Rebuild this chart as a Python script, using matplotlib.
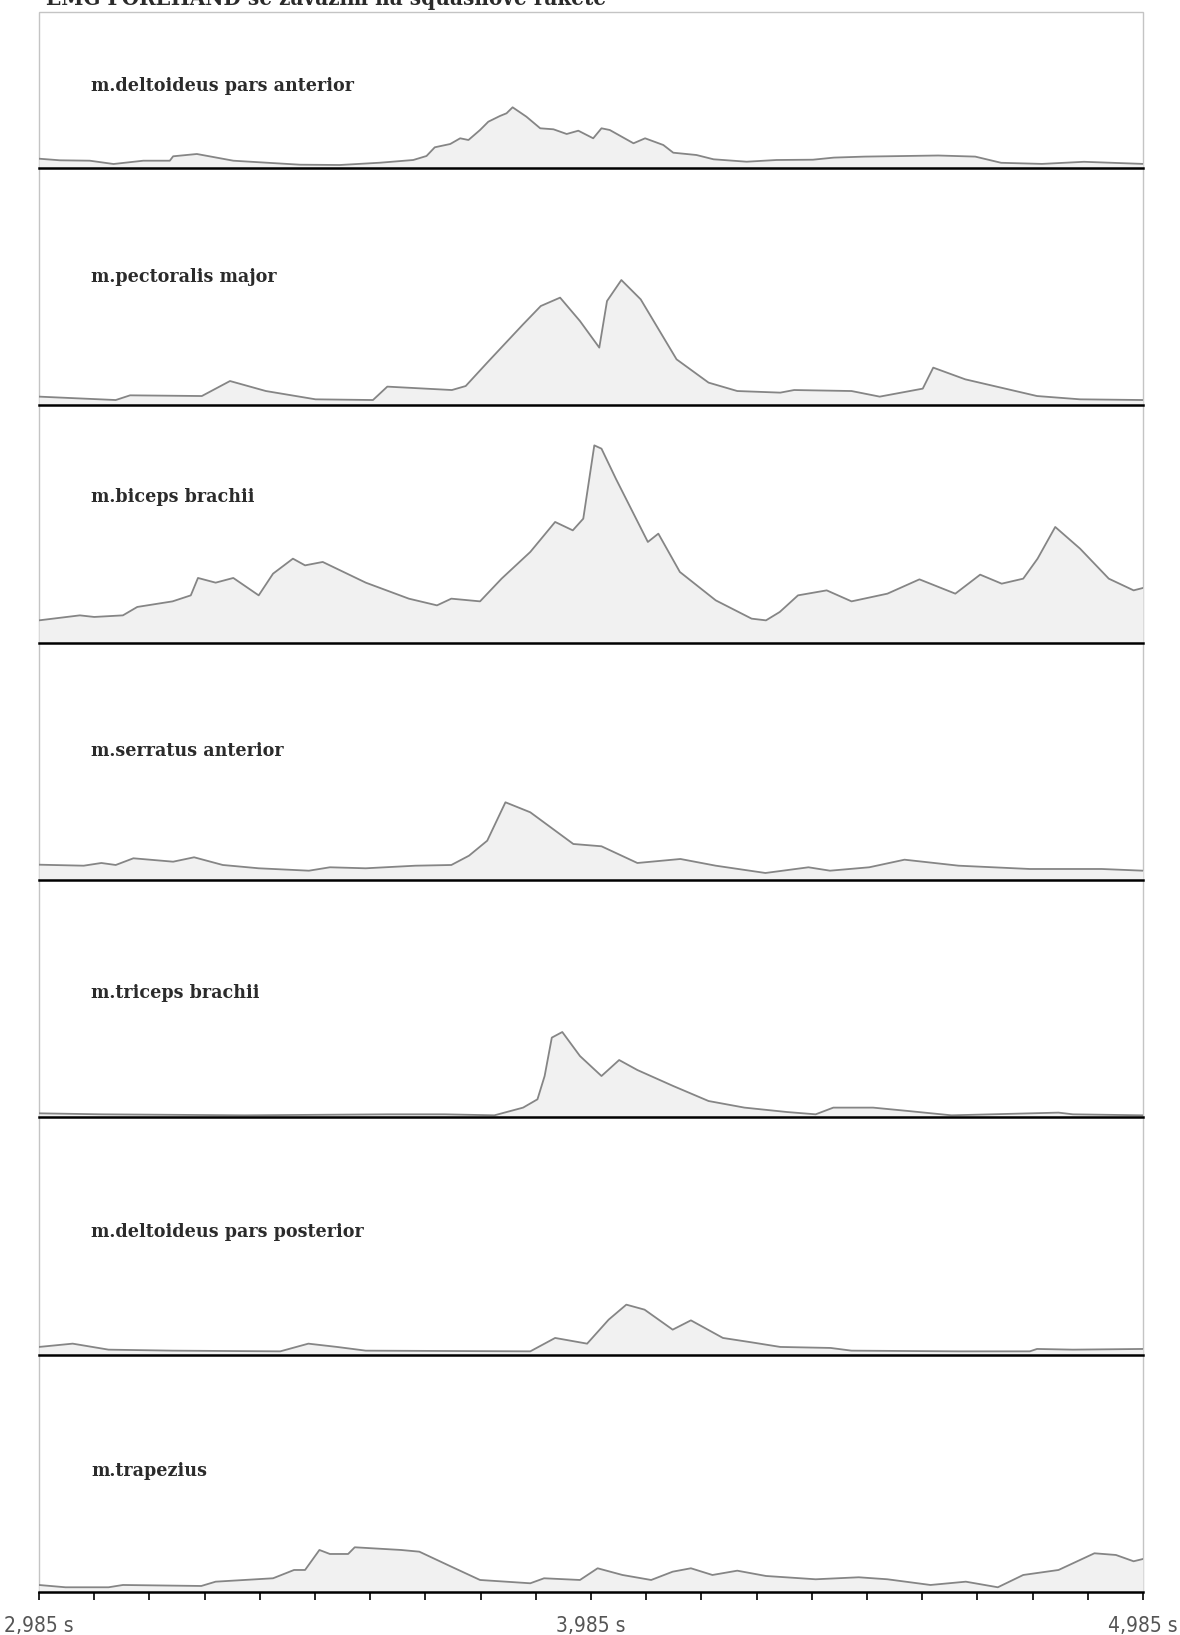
import numpy as np
import matplotlib
matplotlib.use("Agg")
import matplotlib.pyplot as plt
from matplotlib.patches import Rectangle

# ---- EMG envelopes (time in s, amplitude in arbitrary units) ----
delt_ant_t = [2.985, 3.023, 3.077, 3.120, 3.174, 3.222, 3.228, 3.271, 3.337, 3.385,
              3.458, 3.530, 3.603, 3.663, 3.687, 3.702, 3.730, 3.748, 3.763, 3.784,
              3.799, 3.820, 3.832, 3.843, 3.868, 3.893, 3.917, 3.941, 3.962, 3.989,
              4.004, 4.019, 4.062, 4.083, 4.116, 4.134, 4.176, 4.207, 4.267, 4.321,
              4.387, 4.425, 4.481, 4.614, 4.681, 4.728, 4.802, 4.878, 4.985]
delt_ant_amp = [9.3, 7.7, 7.3, 4.0, 7.3, 7.3, 11.7, 14.0, 7.3, 5.7,
                3.3, 3.0, 5.3, 8.0, 12.0, 20.7, 24.0, 29.7, 28.0, 38.0,
                46.3, 52.0, 54.7, 60.7, 51.3, 39.7, 38.7, 34.0, 37.3, 29.7,
                39.7, 38.0, 24.7, 29.7, 23.0, 15.3, 13.0, 8.7, 6.3, 8.0,
                8.3, 10.4, 11.4, 12.5, 11.4, 5.2, 4.1, 6.2, 4.1]

pect_t = [2.985, 3.124, 3.150, 3.280, 3.331, 3.396, 3.486, 3.590, 3.616, 3.733,
          3.758, 3.797, 3.862, 3.894, 3.929, 3.965, 4.000, 4.014, 4.040, 4.075,
          4.140, 4.198, 4.250, 4.328, 4.353, 4.457, 4.508, 4.586, 4.605, 4.663,
          4.793, 4.871, 4.985]
pect_amp = [8.7, 5.3, 10.0, 9.3, 24.3, 14.3, 6.0, 5.3, 18.7, 15.3,
            19.3, 42.7, 81.0, 99.3, 107.7, 84.3, 57.7, 104.3, 125.3, 106.0,
            46.0, 22.7, 14.3, 12.7, 15.3, 14.3, 8.7, 16.7, 37.7, 26.0,
            9.3, 6.0, 5.3]

biceps_t = [2.985, 3.059, 3.085, 3.137, 3.163, 3.227, 3.260, 3.273, 3.305, 3.337,
            3.383, 3.409, 3.445, 3.467, 3.499, 3.577, 3.655, 3.706, 3.732, 3.784,
            3.823, 3.875, 3.920, 3.952, 3.971, 3.991, 4.004, 4.030, 4.088, 4.107,
            4.146, 4.211, 4.276, 4.302, 4.327, 4.360, 4.412, 4.457, 4.522, 4.580,
            4.645, 4.690, 4.729, 4.768, 4.794, 4.826, 4.871, 4.923, 4.968, 4.985]
biceps_amp = [22.3, 27.3, 25.7, 27.3, 35.7, 41.3, 47.3, 64.7, 60.0, 64.7,
              47.3, 69.0, 84.0, 77.3, 80.7, 60.0, 44.0, 37.3, 44.0, 41.3,
              64.0, 90.7, 120.7, 112.3, 124.0, 197.3, 194.0, 164.0, 100.7, 109.0,
              70.7, 42.3, 24.0, 22.3, 30.7, 47.3, 52.3, 41.3, 49.0, 63.3,
              49.0, 68.0, 59.0, 64.0, 84.0, 115.7, 94.0, 64.0, 52.3, 54.7]

serratus_t = [2.985, 3.066, 3.098, 3.124, 3.156, 3.228, 3.266, 3.318, 3.383, 3.474,
              3.512, 3.577, 3.667, 3.732, 3.764, 3.797, 3.830, 3.875, 3.953, 4.004,
              4.069, 4.147, 4.211, 4.301, 4.379, 4.418, 4.489, 4.553, 4.651, 4.780,
              4.910, 4.985]
serratus_amp = [15.3, 14.3, 17.0, 15.0, 21.7, 18.3, 22.7, 15.0, 11.7, 9.3,
                12.7, 11.7, 14.3, 15.0, 24.3, 39.3, 77.7, 67.7, 36.0, 33.7,
                17.0, 21.0, 14.3, 7.0, 12.7, 9.3, 12.7, 20.3, 14.3, 11.0,
                11.0, 9.3]

triceps_t = [2.985, 3.098, 3.357, 3.617, 3.720, 3.810, 3.862, 3.888, 3.901, 3.914,
             3.933, 3.965, 4.004, 4.036, 4.069, 4.134, 4.198, 4.263, 4.340, 4.392,
             4.424, 4.496, 4.560, 4.638, 4.832, 4.858, 4.985]
triceps_amp = [4.0, 3.0, 2.0, 3.0, 3.0, 2.0, 9.7, 18.0, 41.3, 79.7,
               85.3, 61.3, 41.3, 57.3, 47.3, 31.3, 16.3, 9.7, 5.3, 3.0,
               9.7, 9.7, 6.3, 2.0, 4.7, 3.0, 2.0]

delt_post_t = [2.985, 3.046, 3.111, 3.227, 3.422, 3.473, 3.525, 3.577, 3.875, 3.920,
               3.978, 4.017, 4.049, 4.082, 4.133, 4.166, 4.224, 4.276, 4.328, 4.419,
               4.457, 4.652, 4.780, 4.793, 4.858, 4.985]
delt_post_amp = [7.7, 11.0, 5.0, 4.0, 3.3, 11.0, 7.7, 4.0, 3.3, 16.7,
                 11.0, 35.0, 50.0, 45.0, 25.0, 34.3, 16.7, 12.3, 7.7, 6.7,
                 4.0, 3.3, 3.3, 5.7, 5.0, 5.7]

trap_t = [2.985, 3.033, 3.111, 3.137, 3.279, 3.305, 3.409, 3.447, 3.467, 3.493,
          3.512, 3.545, 3.557, 3.641, 3.674, 3.732, 3.784, 3.875, 3.900, 3.965,
          3.997, 4.042, 4.094, 4.133, 4.166, 4.205, 4.250, 4.302, 4.392, 4.470,
          4.522, 4.600, 4.664, 4.722, 4.768, 4.832, 4.897, 4.936, 4.968, 4.985]
trap_amp = [7.0, 4.7, 4.7, 7.0, 6.0, 10.3, 13.7, 22.0, 22.0, 42.0,
            38.0, 38.0, 44.7, 42.0, 40.3, 25.3, 12.0, 8.7, 13.7, 12.0,
            23.7, 17.0, 12.0, 20.3, 23.7, 17.0, 21.3, 16.0, 12.7, 14.7,
            12.7, 7.0, 10.3, 4.7, 17.0, 22.0, 38.7, 37.0, 30.7, 33.0]

muscles = ["m.deltoideus pars anterior", "m.pectoralis major", "m.biceps brachii",
           "m.serratus anterior", "m.triceps brachii", "m.deltoideus pars posterior",
           "m.trapezius"]
series = [(delt_ant_t, delt_ant_amp), (pect_t, pect_amp), (biceps_t, biceps_amp),
          (serratus_t, serratus_amp), (triceps_t, triceps_amp),
          (delt_post_t, delt_post_amp), (trap_t, trap_amp)]

t_start, t_end = 2.985, 4.985
tick_step = 0.1
title = "EMG FOREHAND se závažím na squashové raketě"

# ---- layout (figure pixels) ----
W, H = 1180, 1635
LEFT, RIGHT, TOP = 39, 1143, 12
FIRST_BASE, STEP = 168, 237.33
label_drop = [74, 109, 92, 108, 113, 115, 116]   # label centre below panel top
label_x = 91

fig = plt.figure(figsize=(W / 100, H / 100), dpi=100)
fig.patch.set_facecolor("white")

# outer frame, drawn beneath the panels
fig.patches.append(Rectangle((LEFT / W, 1 - (FIRST_BASE + 6 * STEP) / H),
                             (RIGHT - LEFT) / W, (FIRST_BASE + 6 * STEP - TOP) / H,
                             transform=fig.transFigure, fill=False,
                             edgecolor="#c4c4c4", lw=1.0, zorder=-1))

label_font = dict(family=["DejaVu Serif"], fontstretch="condensed",
                  fontweight="bold", fontsize=14, color="#2b2b2b")

axes = []
for i, (name, (t, amp)) in enumerate(zip(muscles, series)):
    base = FIRST_BASE + i * STEP
    top = TOP if i == 0 else FIRST_BASE + (i - 1) * STEP
    ax = fig.add_axes([LEFT / W, 1 - base / H, (RIGHT - LEFT) / W, (base - top) / H])
    ax.patch.set_alpha(0)
    ax.set_xlim(t_start, t_end)
    ax.set_ylim(0, base - top)
    ax.fill_between(t, amp, 0, color="#f1f1f1", lw=0, zorder=1)
    ax.plot(t, amp, color="#858585", lw=1.3, zorder=2)
    for s in ("top", "left", "right"):
        ax.spines[s].set_visible(False)
    ax.spines["bottom"].set_color("black")
    ax.spines["bottom"].set_linewidth(1.8)
    ax.spines["bottom"].set_zorder(5)
    ax.set_yticks([])
    ax.set_xticks([])
    fig.text((label_x) / W, 1 - (top + label_drop[i]) / H, name,
             ha="left", va="center", **label_font)
    axes.append(ax)

# time axis on the bottom panel
ax = axes[-1]
n_ticks = int(round((t_end - t_start) / tick_step)) + 1
ticks = [t_start + k * tick_step for k in range(n_ticks)]
ax.set_xticks(ticks)
ax.set_xticklabels([f"{v:.3f}".replace(".", ",") + " s" if k % 10 == 0 else ""
                    for k, v in enumerate(ticks)],
                   family=["Liberation Sans Narrow", "DejaVu Sans"],
                   fontstretch="condensed", fontsize=15, color="#555555")
ax.tick_params(axis="x", direction="out", length=6, width=1.2, color="black", pad=11)

# heading, running off the top edge
fig.text(46 / W, 1 - 5 / H, title, ha="left", va="baseline",
         family=["DejaVu Serif"], fontstretch="condensed", fontweight="bold",
         fontsize=16, color="#2b2b2b")

fig.savefig("out.png", dpi=100)
